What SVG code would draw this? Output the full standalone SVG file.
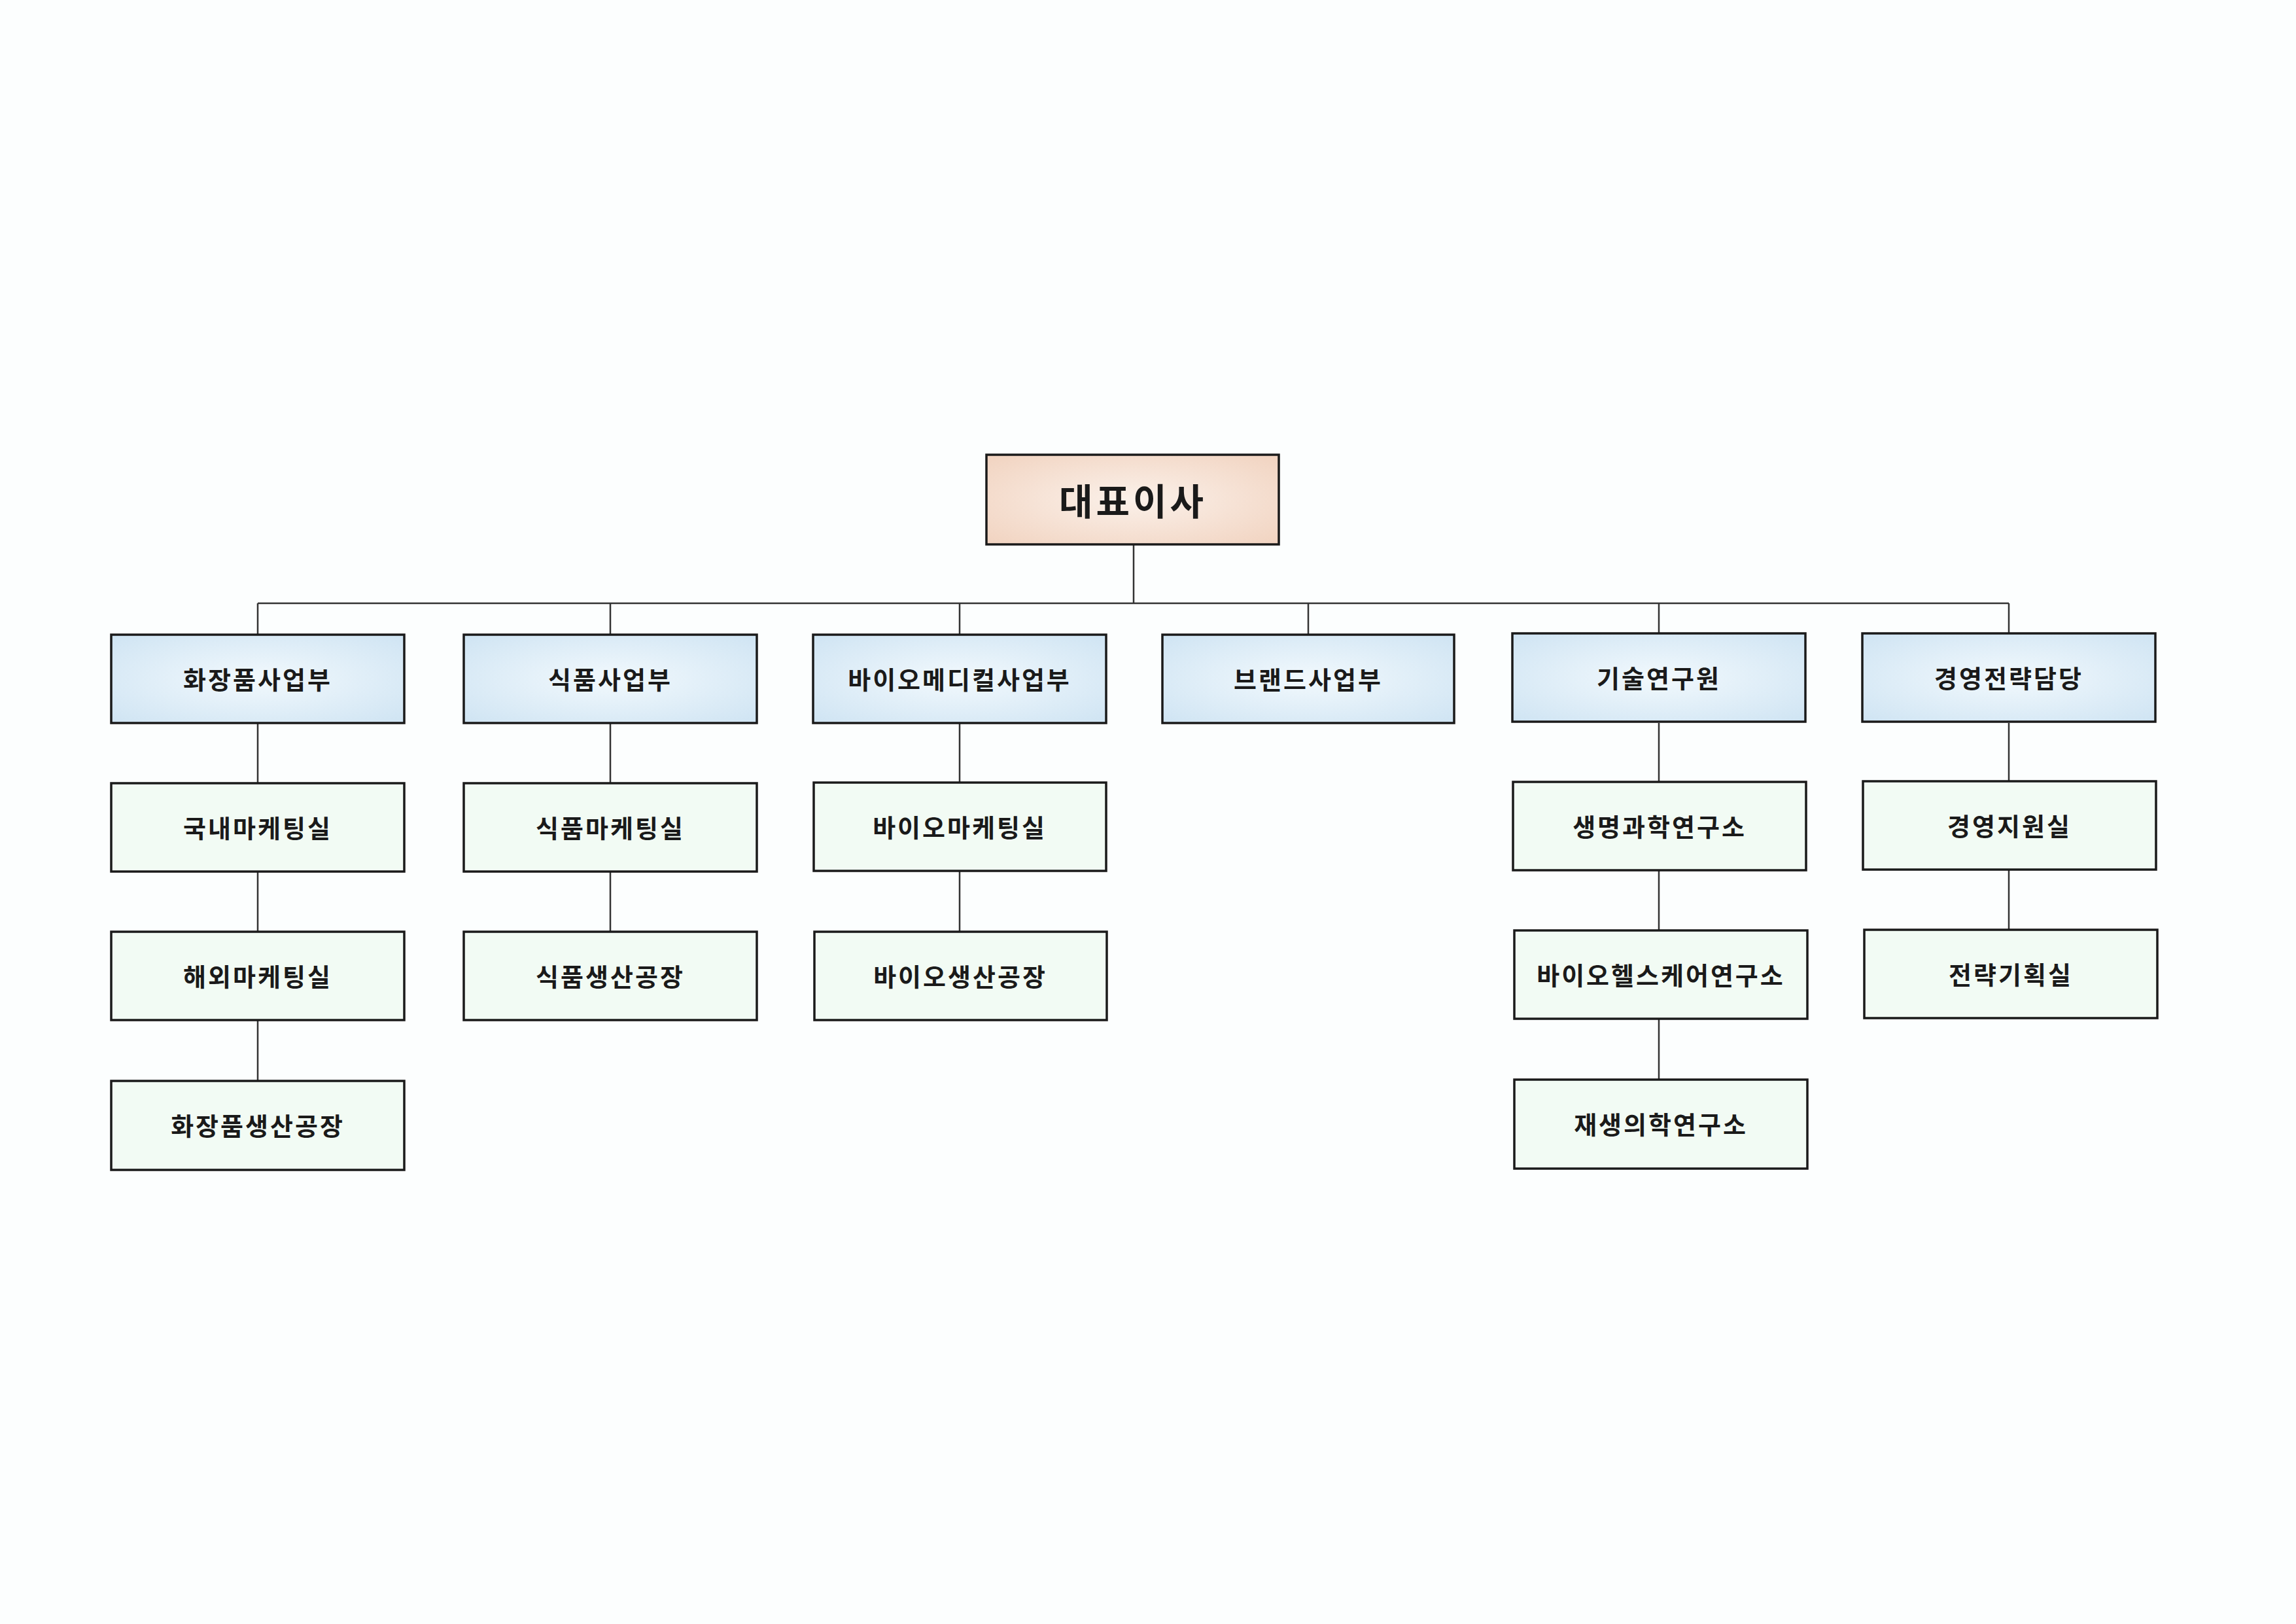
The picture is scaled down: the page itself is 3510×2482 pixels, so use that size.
<svg xmlns="http://www.w3.org/2000/svg" width="3510" height="2482" viewBox="0 0 3510 2482">
<defs>
<radialGradient id="gB" cx="0.5" cy="0.5" r="0.7"><stop offset="0" stop-color="#f2f9fd"/><stop offset="1" stop-color="#cfe4f3"/></radialGradient>
<radialGradient id="gC" cx="0.5" cy="0.5" r="0.7"><stop offset="0" stop-color="#fbf1ea"/><stop offset="1" stop-color="#f1d3c0"/></radialGradient>
<style>
.b{stroke:#1a1a1a;stroke-width:3.5}
.l1{fill:url(#gB)}
.l2{fill:#f2fbf4}
.ceo{fill:url(#gC)}
text{font-family:"Noto Sans CJK KR","Noto Sans",sans-serif;font-weight:bold;fill:#1a1a1a;text-anchor:middle;dominant-baseline:central}
.t{font-size:38px;letter-spacing:3px}
.tc{font-size:56px;letter-spacing:5px}
#conn line{stroke:#333;stroke-width:2.5}
</style>
</defs>
<rect width="3510" height="2482" fill="#fcfefe"/>
<g id="conn">
<line x1="1733" y1="832" x2="1733" y2="922"/>
<line x1="394" y1="922" x2="3071" y2="922"/>
<line x1="394" y1="922" x2="394" y2="970"/>
<line x1="933" y1="922" x2="933" y2="970"/>
<line x1="1467" y1="922" x2="1467" y2="970"/>
<line x1="2000" y1="922" x2="2000" y2="970"/>
<line x1="2536" y1="922" x2="2536" y2="970"/>
<line x1="3071" y1="922" x2="3071" y2="970"/>
<line x1="394" y1="1105" x2="394" y2="1652"/>
<line x1="933" y1="1105" x2="933" y2="1424"/>
<line x1="1467" y1="1105" x2="1467" y2="1424"/>
<line x1="2536" y1="1105" x2="2536" y2="1652"/>
<line x1="3071" y1="1105" x2="3071" y2="1424"/>
</g>
<g id="ceo"><rect class="b ceo" x="1508" y="695" width="447" height="137"/><text class="tc" x="1732" y="762">대표이사</text></g>
<g id="n1"><rect class="b l1" x="170" y="970" width="448" height="135"/><text class="t" x="394" y="1036">화장품사업부</text></g>
<g id="n2"><rect class="b l1" x="709" y="970" width="448" height="135"/><text class="t" x="933" y="1036">식품사업부</text></g>
<g id="n3"><rect class="b l1" x="1243" y="970" width="448" height="135"/><text class="t" x="1467" y="1036">바이오메디컬사업부</text></g>
<g id="n4"><rect class="b l1" x="1777" y="970" width="446" height="135"/><text class="t" x="2000" y="1036">브랜드사업부</text></g>
<g id="n5"><rect class="b l1" x="2312" y="968" width="448" height="135"/><text class="t" x="2536" y="1034">기술연구원</text></g>
<g id="n6"><rect class="b l1" x="2847" y="968" width="448" height="135"/><text class="t" x="3071" y="1034">경영전략담당</text></g>
<g id="n11"><rect class="b l2" x="170" y="1197" width="448" height="135"/><text class="t" x="394" y="1263">국내마케팅실</text></g>
<g id="n12"><rect class="b l2" x="170" y="1424" width="448" height="135"/><text class="t" x="394" y="1490">해외마케팅실</text></g>
<g id="n13"><rect class="b l2" x="170" y="1652" width="448" height="136"/><text class="t" x="394" y="1718">화장품생산공장</text></g>
<g id="n21"><rect class="b l2" x="709" y="1197" width="448" height="135"/><text class="t" x="933" y="1263">식품마케팅실</text></g>
<g id="n22"><rect class="b l2" x="709" y="1424" width="448" height="135"/><text class="t" x="933" y="1490">식품생산공장</text></g>
<g id="n31"><rect class="b l2" x="1244" y="1196" width="447" height="135"/><text class="t" x="1467" y="1262">바이오마케팅실</text></g>
<g id="n32"><rect class="b l2" x="1245" y="1424" width="447" height="135"/><text class="t" x="1468" y="1490">바이오생산공장</text></g>
<g id="n51"><rect class="b l2" x="2313" y="1195" width="448" height="135"/><text class="t" x="2537" y="1261">생명과학연구소</text></g>
<g id="n52"><rect class="b l2" x="2315" y="1422" width="448" height="135"/><text class="t" x="2539" y="1488">바이오헬스케어연구소</text></g>
<g id="n53"><rect class="b l2" x="2315" y="1650" width="448" height="136"/><text class="t" x="2539" y="1716">재생의학연구소</text></g>
<g id="n61"><rect class="b l2" x="2848" y="1194" width="448" height="135"/><text class="t" x="3072" y="1260">경영지원실</text></g>
<g id="n62"><rect class="b l2" x="2850" y="1421" width="448" height="135"/><text class="t" x="3074" y="1487">전략기획실</text></g>
</svg>
